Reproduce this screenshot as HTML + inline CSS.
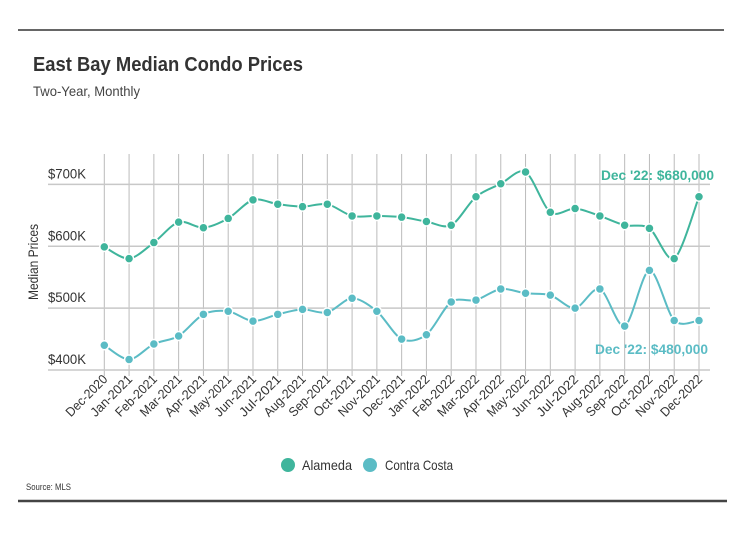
<!DOCTYPE html>
<html><head><meta charset="utf-8"><style>
body{margin:0;background:#fff;}
svg{display:block;font-family:"Liberation Sans Narrow","Liberation Sans",sans-serif;}
</style></head><body>
<svg id="chart" width="740" height="533" viewBox="0 0 740 533">
<line x1="18" y1="30" x2="724" y2="30" stroke="#333" stroke-width="1.5"/>
<line x1="18" y1="501" x2="727" y2="501" stroke="#444" stroke-width="2.5"/>
<text x="33" y="71" font-size="20" font-weight="bold" fill="#333" textLength="270" lengthAdjust="spacingAndGlyphs">East Bay Median Condo Prices</text>
<text x="33" y="96" font-size="14" fill="#444" textLength="107" lengthAdjust="spacingAndGlyphs">Two-Year, Monthly</text>
<text transform="translate(38,262) rotate(-90)" text-anchor="middle" font-size="14" fill="#333" textLength="76" lengthAdjust="spacingAndGlyphs">Median Prices</text>
<g id="grid"></g><g id="series"></g><g id="xlabels"></g><g id="ylabels"></g>
<text x="714" y="180" text-anchor="end" font-size="14" font-weight="bold" fill="#3fb59c" textLength="113" lengthAdjust="spacingAndGlyphs">Dec '22: $680,000</text>
<text x="708" y="354" text-anchor="end" font-size="14" font-weight="bold" fill="#5bbcc5" textLength="113" lengthAdjust="spacingAndGlyphs">Dec '22: $480,000</text>
<g>
<g><circle cx="288" cy="465" r="7" fill="#3fb59c"/><text x="302" y="470" font-size="14" fill="#333" textLength="50" lengthAdjust="spacingAndGlyphs">Alameda</text></g>
<g><circle cx="370" cy="465" r="7" fill="#5bbcc5"/><text x="385" y="470" font-size="14" fill="#333" textLength="68" lengthAdjust="spacingAndGlyphs">Contra Costa</text></g>
</g>
<text x="26" y="490" font-size="9" fill="#333" textLength="45" lengthAdjust="spacingAndGlyphs">Source:  MLS</text>
</svg>
<script>
const categories=["Dec-2020","Jan-2021","Feb-2021","Mar-2021","Apr-2021","May-2021","Jun-2021","Jul-2021","Aug-2021","Sep-2021","Oct-2021","Nov-2021","Dec-2021","Jan-2022","Feb-2022","Mar-2022","Apr-2022","May-2022","Jun-2022","Jul-2022","Aug-2022","Sep-2022","Oct-2022","Nov-2022","Dec-2022"];
const alameda=[599,580,606,639,630,645,675,668,664,668,649,649,647,640,634,680,701,720,655,661,649,634,629,580,680];
const contraCosta=[440,417,442,455,490,495,479,490,498,493,516,495,450,457,510,513,531,524,521,500,531,471,561,480,480];
const yTicks=[400,500,600,700];
const yTickLabels=["$400K","$500K","$600K","$700K"];
const NS="http://www.w3.org/2000/svg";
const x=i=>104.3+i*(699-104.3)/(categories.length-1);
const y=v=>370-(v-400)*0.6187;
function mk(tag,attrs,parent){const e=document.createElementNS(NS,tag);for(const k in attrs)e.setAttribute(k,attrs[k]);parent.appendChild(e);return e;}
const grid=document.getElementById('grid'),ser=document.getElementById('series'),xl=document.getElementById('xlabels'),yl=document.getElementById('ylabels');
categories.forEach((c,i)=>{
 const l=mk('line',{x1:x(i),x2:x(i),y1:154,y2:376,stroke:'#bbb','stroke-width':1},grid);
 
 
 const t=mk('text',{transform:`translate(${x(i)+4},${380}) rotate(-45)`,'text-anchor':'end','font-size':13,fill:'#333',textLength:53,lengthAdjust:'spacingAndGlyphs'},xl);
 t.textContent=c;
 
 
});
yTicks.forEach((v,i)=>{
 const l=mk('line',{x1:48,x2:710,y1:y(v),y2:y(v),stroke:'#c8c8c8','stroke-width':1.5},grid);
 
 
 const t=mk('text',{x:48,y:y(v)-6,'font-size':14,fill:'#333',textLength:38,lengthAdjust:'spacingAndGlyphs'},yl);
 t.textContent=yTickLabels[i];
 
 
});
function path(vals){
 const p=vals.map((v,i)=>[x(i),y(v)]);let d=`M${p[0][0]},${p[0][1]}`;
 for(let i=0;i<p.length-1;i++){const p0=p[Math.max(0,i-1)],p1=p[i],p2=p[i+1],p3=p[Math.min(p.length-1,i+2)];const k=0.15;
 d+=` C${p1[0]+(p2[0]-p0[0])*k},${p1[1]+(p2[1]-p0[1])*k} ${p2[0]-(p3[0]-p1[0])*k},${p2[1]-(p3[1]-p1[1])*k} ${p2[0]},${p2[1]}`;}
 return d;}
[[alameda,'#3fb59c','alameda'],[contraCosta,'#5bbcc5','contra-costa']].forEach(([vals,col,nm])=>{
 const pa=mk('path',{d:path(vals),fill:'none',stroke:col,'stroke-width':2},ser);
 
 
 vals.forEach((v,i)=>{const c=mk('circle',{cx:x(i),cy:y(v),r:4.5,fill:col,stroke:'#fff','stroke-width':1.5},ser);
 
 });
});
</script>
</body></html>
